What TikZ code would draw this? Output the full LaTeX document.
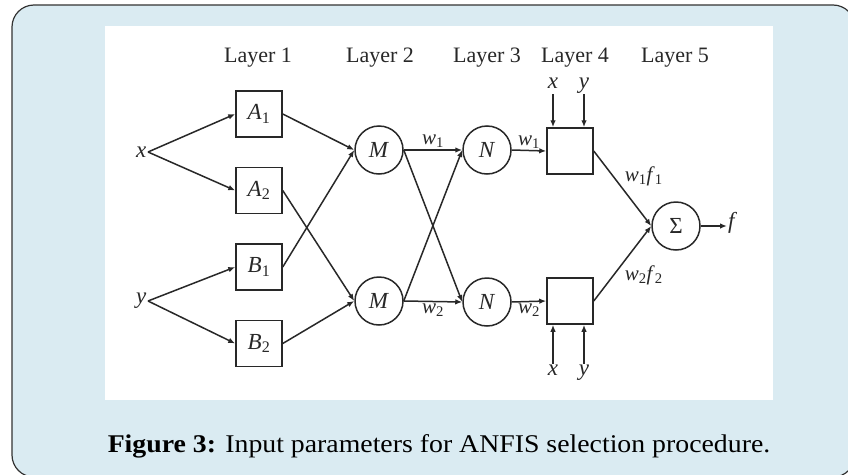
\documentclass[tikz,border=0pt]{standalone}
\usepackage{fontspec}
\setmainfont{Liberation Serif}
\usepackage{tikz}
\usetikzlibrary{arrows.meta,positioning,calc}
\definecolor{panelblue}{RGB}{218,235,242}
\definecolor{ink}{RGB}{40,40,40}
\newcommand{\vsub}[2]{\textit{#1}\textsubscript{#2}}

\begin{document}
\begin{tikzpicture}[
  x=1pt, y=-1pt,
  font=\fontsize{23}{27}\selectfont,
  every node/.style = {text=ink},
  layer/.style = {font=\fontsize{22}{26}\selectfont, anchor=base},
  mf/.style = {rectangle, draw=ink, line width=1.5pt,
               minimum size=46pt, inner sep=0pt},
  neuron/.style = {circle, draw=ink, line width=1.5pt,
                   minimum size=48pt, inner sep=0pt},
  inp/.style = {inner sep=1pt, text height=10pt, text depth=5pt},
  wlab/.style = {font=\fontsize{21}{24}\selectfont, inner sep=1.5pt},
  link/.style = {-{Latex[length=7pt,width=5.5pt]}, draw=ink, line width=1.5pt}
]

% panel and white figure area
\useasboundingbox (0,0) rectangle (848,474);
\clip (0,0) rectangle (848,474);
\fill[white] (0,0) rectangle (848,474);
\draw[fill=panelblue, draw=black!80, line width=1.2pt, rounded corners=22pt]
  (12,5) rectangle (855,477);
\fill[white] (105,26) rectangle (773,400);

% Layer headings
\node[layer] (lay1) at (258,62) {Layer 1};
\node[layer] (lay2) at (380,62) {Layer 2};
\node[layer] (lay3) at (487,62) {Layer 3};
\node[layer] (lay4) at (575,62) {Layer 4};
\node[layer] (lay5) at (675,62) {Layer 5};

% Inputs
\node[anchor=east, inner sep=1.5pt] (xin) at (148,152) {\textit{x}};
\node[anchor=east, inner sep=1.5pt] (yin) at (148,301) {\textit{y}};

% Layer 1: membership functions
\node[mf] (A1) at (259,114) {\vsub{A}{1}};
\node[mf, below=29pt of A1] (A2) {\vsub{A}{2}};
\node[mf, below=29pt of A2] (B1) {\vsub{B}{1}};
\node[mf, below=29pt of B1] (B2) {\vsub{B}{2}};

% Layer 2 and 3: product and normalisation
\node[neuron] (M1) at (379,150) {\textit{M}};
\node[neuron] (M2) at (379,301) {\textit{M}};
\node[neuron] (N1) at (487,150) {\textit{N}};
\node[neuron] (N2) at (487,302) {\textit{N}};

% Layer 4: consequent nodes
\node[mf] (R1) at (570,151) {};
\node[mf] (R2) at (570,301) {};

% Layer 5: summation
\node[neuron] (S) at (676,226) {Σ};
\node[inp, anchor=west] (fout) at (727,226) {\textit{f}};

% x, y fed into the consequent nodes
\node[inp, anchor=base] (xt) at (553,88) {\textit{x}};
\node[inp, anchor=base] (yt) at (584,88) {\textit{y}};
\node[inp, anchor=base] (xb) at (553,375) {\textit{x}};
\node[inp, anchor=base] (yb) at (584,375) {\textit{y}};

% inputs to layer 1
\draw[link] (xin.east) -- (A1.west);
\draw[link] (xin.east) -- (A2.west);
\draw[link] (yin.east) -- (B1.west);
\draw[link] (yin.east) -- (B2.west);

% layer 1 to layer 2
\draw[link] (A1.east) -- (M1.west);
\draw[link] (B1.east) -- (M1.west);
\draw[link] (A2.east) -- (M2.west);
\draw[link] (B2.east) -- (M2.west);

% layer 2 to layer 3 (fully connected)
\draw[link] (M1.east) -- node[wlab, above] {\vsub{w}{1}} (N1.west);
\draw[link] (M1.east) -- (N2.west);
\draw[link] (M2.east) -- (N1.west);
\draw[link] (M2.east) -- node[wlab, below] {\vsub{w}{2}} (N2.west);

% layer 3 to layer 4
\draw[link] (N1.east) -- node[wlab, above] {\vsub{w}{1}} (R1.west);
\draw[link] (N2.east) -- node[wlab, below] {\vsub{w}{2}} (R2.west);
\draw[link] (xt.south) -- (xt.south |- R1.north);
\draw[link] (yt.south) -- (yt.south |- R1.north);
\draw[link] (xb.north) -- (xb.north |- R2.south);
\draw[link] (yb.north) -- (yb.north |- R2.south);

% layer 4 to layer 5 and output
\draw[link] (R1.east) -- node[wlab, above right] {\vsub{w}{1}\vsub{f}{1}} (S.west);
\draw[link] (R2.east) -- node[wlab, below right] {\vsub{w}{2}\vsub{f}{2}} (S.west);
\draw[link] (S.east) -- (fout.west);

% caption
\node[anchor=base, text=black] (cap) at (439,452)
  {\scalebox{1.09}[1]{\fontsize{25.5}{30}\selectfont
   \textbf{Figure 3:} Input parameters for ANFIS selection procedure.}};

\end{tikzpicture}
\end{document}
